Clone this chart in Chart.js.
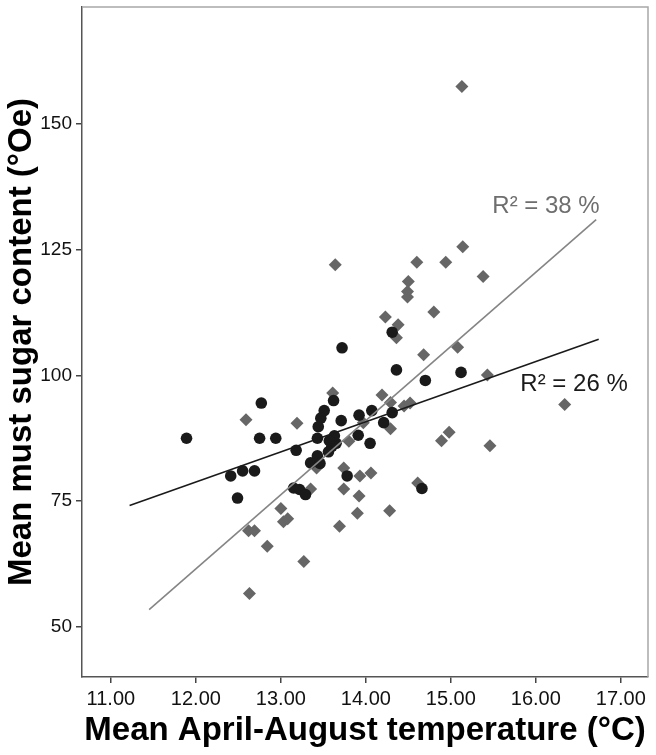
<!DOCTYPE html>
<html>
<head>
<meta charset="utf-8">
<script src="https://cdn.jsdelivr.net/npm/chart.js@4.4.1/dist/chart.umd.min.js"></script>
<style>
  html, body { margin: 0; padding: 0; background: #fff; }
  #wrap { width: 656px; height: 755px; }
</style>
</head>
<body>
<div id="wrap"><canvas id="sugarChart" width="656" height="755"></canvas></div>
<script>
// ===== DATA =====
// black circles
const circleTemp  = [11.89, 12.77, 12.75, 12.94, 12.41, 12.55, 12.69, 12.49, 13.18, 13.15,
                     13.22, 13.29, 13.35, 13.43, 13.46, 13.56, 13.60, 13.65, 13.78, 14.05,
                     13.43, 13.63, 13.57, 13.91, 13.62, 13.51, 13.47, 13.44, 13.71, 13.92,
                     14.07, 13.72, 14.21, 14.31, 14.31, 14.36, 14.70, 15.12, 14.66];
const circleSugar = [87.5, 94.5, 87.5, 87.5, 80.0, 81.0, 81.0, 75.6, 85.1, 77.6,
                     77.3, 76.3, 82.6, 84.0, 82.5, 84.8, 85.9, 86.5, 80.0, 86.5,
                     87.5, 88.0, 87.0, 88.1, 95.0, 93.0, 91.5, 89.8, 91.0, 92.1,
                     93.0, 105.5, 90.6, 92.6, 108.6, 101.1, 99.0, 100.6, 77.5];

// grey diamonds
const diamondTemp  = [15.13, 15.14, 14.60, 14.94, 15.38, 14.50, 14.49, 14.49, 14.80, 14.23,
                      14.38, 14.36, 15.08, 14.68, 15.43, 16.34, 13.64, 13.61, 12.59, 13.19,
                      13.97, 13.80, 14.19, 14.29, 14.29, 14.45, 14.52, 14.89, 14.98, 15.46,
                      14.61, 13.42, 13.35, 13.74, 13.74, 13.93, 14.06, 13.92, 13.90, 13.69,
                      14.28, 13.00, 13.03, 13.08, 12.62, 12.69, 12.84, 13.27, 12.63];
const diamondSugar = [157.5, 125.6, 122.5, 122.5, 119.7, 118.7, 116.7, 115.6, 112.6, 111.6,
                      110.1, 107.5, 105.6, 104.1, 100.1, 94.2, 122.0, 96.5, 91.2, 90.5,
                      90.6, 86.9, 96.1, 94.6, 89.4, 93.9, 94.5, 87.0, 88.7, 86.0,
                      78.6, 81.6, 77.4, 81.6, 77.4, 80.0, 80.6, 76.0, 72.6, 70.0,
                      73.1, 73.5, 70.9, 71.5, 69.1, 69.1, 66.0, 63.0, 56.6];

// fitted lines (end points)
const circleFitTemp   = [11.22, 16.74];
const circleFitSugar  = [74.1, 107.2];
const diamondFitTemp  = [11.45, 16.71];
const diamondFitSugar = [53.4, 131.0];

const xTicks = [11, 12, 13, 14, 15, 16, 17];
const yTicks = [50, 75, 100, 125, 150];

const diamondR2 = 'R² = 38 %';
const circleR2  = 'R² = 26 %';

// ===== STYLE =====
const FONT  = "'Liberation Sans', Arial, Helvetica, sans-serif";
const BLACK = '#1a1a1a';
const GREY  = '#666666';
const GREY_LINE = '#858585';

const toPts = (xs, ys) => xs.map((x, i) => ({ x: x, y: ys[i] }));

// frame + R² labels
const framePlugin = {
  id: 'frame',
  beforeDatasetsDraw(chart) {
    const { ctx, chartArea: a } = chart;
    ctx.save();
    ctx.strokeStyle = '#a8a8a8';
    ctx.lineWidth = 1.5;
    ctx.beginPath();
    ctx.moveTo(a.left, a.top);
    ctx.lineTo(a.right, a.top);
    ctx.lineTo(a.right, a.bottom);
    ctx.stroke();
    ctx.restore();
  },
  afterDatasetsDraw(chart) {
    const { ctx, scales } = chart;
    ctx.save();
    ctx.font = '24px ' + FONT;
    ctx.textAlign = 'center';
    ctx.textBaseline = 'middle';
    ctx.fillStyle = '#6e6e6e';
    ctx.fillText(diamondR2, scales.x.getPixelForValue(16.12), scales.y.getPixelForValue(133.7));
    ctx.fillStyle = BLACK;
    ctx.fillText(circleR2, scales.x.getPixelForValue(16.45), scales.y.getPixelForValue(98.3));
    ctx.restore();
  }
};

new Chart(document.getElementById('sugarChart'), {
  type: 'scatter',
  data: {
    datasets: [
      {
        type: 'line',
        data: toPts(circleFitTemp, circleFitSugar),
        borderColor: BLACK,
        borderWidth: 1.6,
        pointRadius: 0,
        fill: false,
        order: 0,
      },
      {
        type: 'line',
        data: toPts(diamondFitTemp, diamondFitSugar),
        borderColor: GREY_LINE,
        borderWidth: 1.6,
        pointRadius: 0,
        fill: false,
        order: 0,
      },
      {
        data: toPts(circleTemp, circleSugar),
        pointStyle: 'circle',
        pointRadius: 5.8,
        backgroundColor: BLACK,
        borderWidth: 0,
        order: 1,
      },
      {
        data: toPts(diamondTemp, diamondSugar),
        pointStyle: 'rectRot',
        pointRadius: 6.5,
        backgroundColor: GREY,
        borderWidth: 0,
        order: 2,
      },
    ],
  },
  options: {
    responsive: false,
    animation: false,
    devicePixelRatio: 1,
    layout: { padding: { left: 0, top: 7, right: 8, bottom: 0 } },
    plugins: { legend: { display: false }, tooltip: { enabled: false } },
    scales: {
      x: {
        type: 'linear',
        min: 10.66, max: 17.32,
        afterBuildTicks: s => { s.ticks = xTicks.map(v => ({ value: v })); },
        afterFit: s => { s.height = 78; s.paddingLeft = 0; s.paddingRight = 0; },
        grid: { drawOnChartArea: false, drawTicks: true, tickLength: 6, color: '#444', lineWidth: 1.5 },
        border: { display: true, color: '#555', width: 1.5 },
        ticks: {
          color: '#111', padding: 4,
          font: { family: FONT, size: 20 },
          callback: v => Number(v).toFixed(2),
          maxRotation: 0, autoSkip: false,
        },
        title: {
          display: true, text: 'Mean April-August temperature (°C)', color: '#000',
          font: { family: FONT, size: 33, weight: 'bold' },
          padding: { top: 0, bottom: 4 },
        },
      },
      y: {
        type: 'linear',
        min: 40, max: 173.3,
        afterBuildTicks: s => { s.ticks = yTicks.map(v => ({ value: v })); },
        afterFit: s => { s.width = 82; s.paddingTop = 0; s.paddingBottom = 0; },
        grid: { drawOnChartArea: false, drawTicks: true, tickLength: 6, color: '#444', lineWidth: 1.5 },
        border: { display: true, color: '#555', width: 1.5 },
        ticks: {
          color: '#111', padding: 4,
          font: { family: FONT, size: 19 },
          autoSkip: false,
        },
        title: {
          display: true, text: 'Mean must sugar content (°Oe)', color: '#000',
          font: { family: FONT, size: 33, weight: 'bold' },
          padding: { top: 2, bottom: 0 },
        },
      },
    },
  },
  plugins: [framePlugin],
});
</script>
</body>
</html>
